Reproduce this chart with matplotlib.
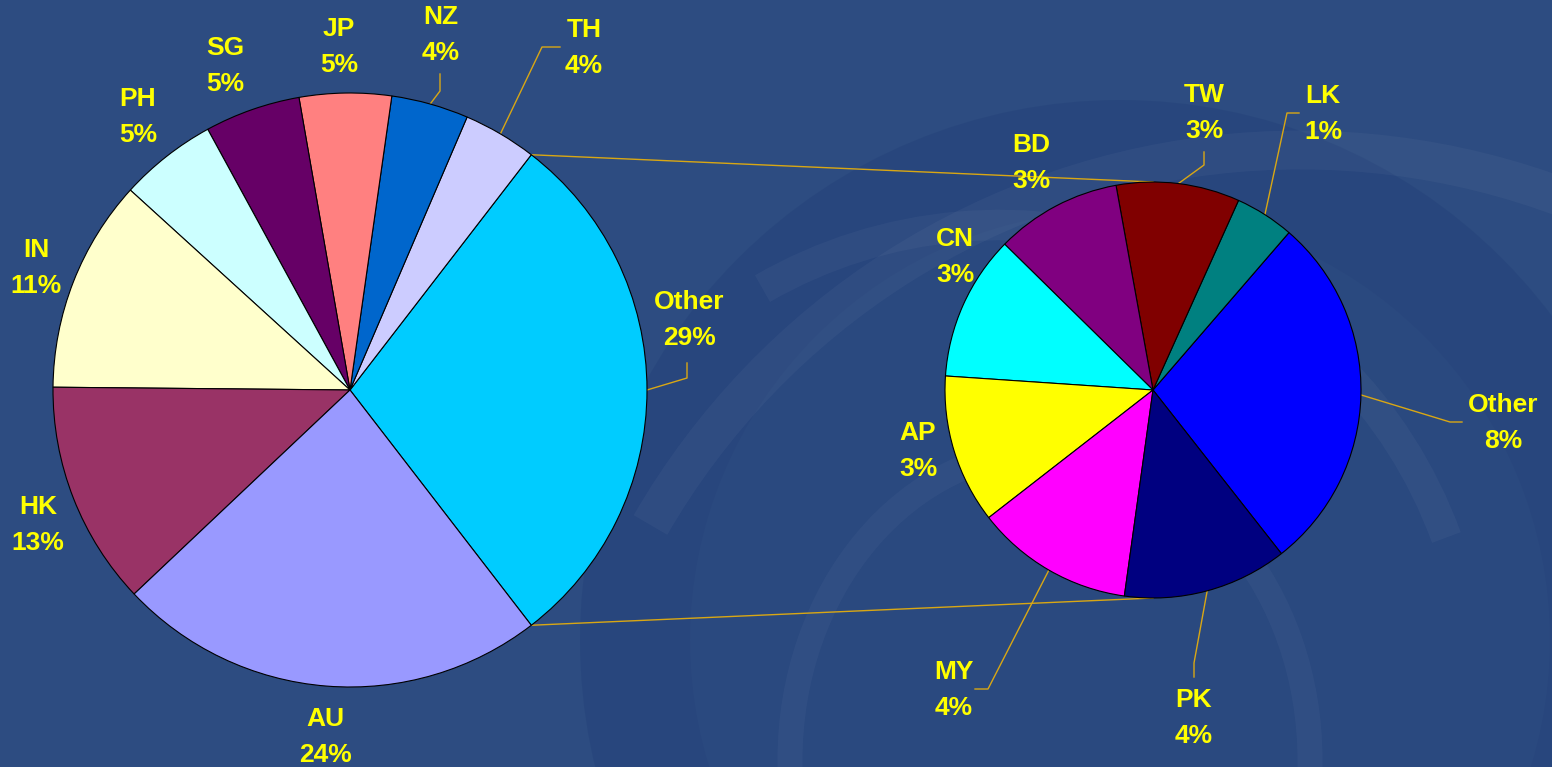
import matplotlib
matplotlib.use("Agg")
import matplotlib.pyplot as plt
from matplotlib.patches import Arc, Circle, Ellipse
import numpy as np

W, H = 1552, 767

# ---- data: main pie (counter-clockwise from the "Other" slice) ----
main_names = ["Other", "TH", "NZ", "JP", "SG", "PH", "IN", "HK", "AU"]
main_share = [29.1, 4.0, 4.2, 5.0, 5.2, 5.3, 11.6, 12.2, 23.4]
main_pct = ["29%", "4%", "4%", "5%", "5%", "5%", "11%", "13%", "24%"]
main_colors = ["#00CCFF", "#CCCCFF", "#0066CC", "#FF8080", "#660066",
               "#CCFFFF", "#FFFFCC", "#993366", "#9999FF"]

# ---- data: breakdown of "Other" (share of the secondary pie) ----
sub_names = ["Other", "LK", "TW", "BD", "CN", "AP", "MY", "PK"]
sub_share = [28.1, 4.6, 9.6, 9.8, 11.3, 11.6, 12.3, 12.8]
sub_pct = ["8%", "1%", "3%", "3%", "3%", "3%", "4%", "4%"]
sub_colors = ["#0000FF", "#008080", "#800000", "#800080", "#00FFFF",
              "#FFFF00", "#FF00FF", "#000080"]

# ---- layout (image pixel coords, y down) ----
MAIN_C, MAIN_R = (350, 390), 297
SUB_C, SUB_R = (1153, 390), 208

main_label_pos = {"Other": (689, 320), "TH": (584, 48), "NZ": (441, 35),
                  "JP": (339, 47), "SG": (225, 66), "PH": (138, 117),
                  "IN": (36, 268), "HK": (38, 525), "AU": (325, 737)}
sub_label_pos = {"Other": (1503, 423), "LK": (1323, 114), "TW": (1204, 113),
                 "BD": (1031, 163), "CN": (955, 257), "AP": (918, 451),
                 "MY": (954, 690), "PK": (1194, 718)}
# leader elbows: from slice edge -> p1 -> p2
main_leaders = {"NZ": [(440, 91), (440, 74)],
                "TH": [(542, 47), (560, 47)],
                "Other": [(687, 378), (687, 363)]}
sub_leaders = {"TW": [(1204, 165), (1204, 152)],
               "LK": [(1287, 113), (1299, 113)],
               "Other": [(1450, 422), (1462, 422)],
               "MY": [(988, 689), (975, 689)],
               "PK": [(1194, 663), (1194, 677)]}

BG = "#2D4C81"
TXT = "#FFFF00"
LEAD = "#D9A714"


def fy(y):
    """image y (down) -> axes y (up)"""
    return H - y


fig = plt.figure(figsize=(W / 100, H / 100), dpi=100, facecolor=BG)
ax = fig.add_axes([0, 0, 1, 1])
ax.set_facecolor(BG)

# faint background swirls
ax.add_patch(Circle((1120, fy(640)), 540, facecolor="#223F77", edgecolor="none", alpha=0.4, zorder=0))
ax.add_patch(Circle((1120, fy(640)), 430, facecolor=BG, edgecolor="none", alpha=0.5, zorder=0))
ax.add_patch(Arc((1300, fy(900)), 1500, 1500, theta1=40, theta2=150,
                 color="white", lw=28, alpha=0.035, zorder=0))
ax.add_patch(Arc((1000, fy(700)), 950, 950, theta1=20, theta2=120,
                 color="white", lw=22, alpha=0.035, zorder=0))
ax.add_patch(Ellipse((1050, fy(760)), 520, 620, facecolor="none",
                     edgecolor="white", lw=18, alpha=0.03, zorder=0))

start = -0.5 * main_share[0] / 100 * 360
mw, _ = ax.pie(main_share, colors=main_colors, startangle=start, counterclock=True,
               center=(MAIN_C[0], fy(MAIN_C[1])), radius=MAIN_R,
               wedgeprops=dict(edgecolor="black", linewidth=0.8), frame=True)
for w in mw:
    w.set_zorder(3)

sub_start = -0.5 * sub_share[0] / 100 * 360 - 1.3
sw, _ = ax.pie(sub_share, colors=sub_colors, startangle=sub_start, counterclock=True,
               center=(SUB_C[0], fy(SUB_C[1])), radius=SUB_R,
               wedgeprops=dict(edgecolor="black", linewidth=0.8), frame=True)
for w in sw:
    w.set_zorder(3)

# connector lines between "Other" slice and secondary pie
ow = mw[0]
for ang, ty in [(ow.theta2, SUB_C[1] - SUB_R), (ow.theta1, SUB_C[1] + SUB_R)]:
    x0 = MAIN_C[0] + MAIN_R * np.cos(np.radians(ang))
    y0 = fy(MAIN_C[1]) + MAIN_R * np.sin(np.radians(ang))
    ax.plot([x0, SUB_C[0]], [y0, fy(ty)], color=LEAD, lw=1, zorder=2)


def draw_labels(wedges, names, pcts, center, radius, pos, leaders):
    for w, n, p in zip(wedges, names, pcts):
        x, y = pos[n]
        ax.text(x, fy(y), f"{n}\n{p}", ha="center", va="center", color=TXT,
                fontsize=19, fontweight="bold", family="Liberation Sans",
                linespacing=1.58, zorder=5)
        if n in leaders:
            mid = np.radians((w.theta1 + w.theta2) / 2)
            xs = [center[0] + radius * np.cos(mid)]
            ys = [fy(center[1]) + radius * np.sin(mid)]
            for px, py in leaders[n]:
                xs.append(px)
                ys.append(fy(py))
            ax.plot(xs, ys, color=LEAD, lw=1, zorder=2)


draw_labels(mw, main_names, main_pct, MAIN_C, MAIN_R, main_label_pos, main_leaders)
draw_labels(sw, sub_names, sub_pct, SUB_C, SUB_R, sub_label_pos, sub_leaders)

ax.set_xlim(0, W)
ax.set_ylim(0, H)
ax.set_aspect("equal")
ax.axis("off")

fig.savefig("out.png", dpi=100, facecolor=BG)
